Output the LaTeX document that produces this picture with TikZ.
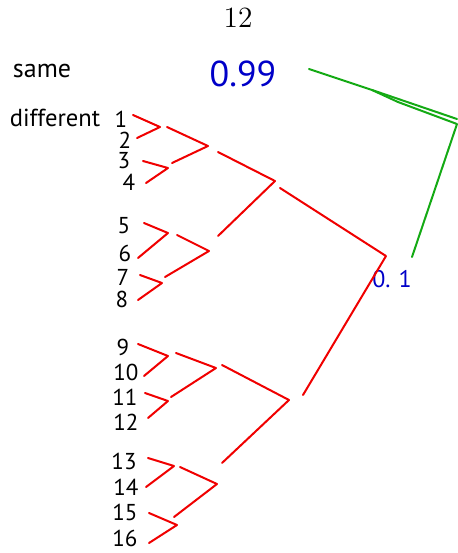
\documentclass[tikz,border=0pt]{standalone}
\usepackage{fontspec}
\newfontfamily\hand{PT Sans}
\definecolor{penred}{RGB}{240,0,0}
\definecolor{pengreen}{RGB}{20,170,20}
\definecolor{penblue}{RGB}{0,0,200}
\begin{document}
\begin{tikzpicture}[x=0.5pt, y=-0.5pt,
    tree/.style={penred, line width=1pt, line cap=round, line join=round},
    link/.style={pengreen, line width=1pt, line cap=round, line join=round},
    lbl/.style={font=\hand\fontsize{#1}{14}\selectfont, inner sep=0pt},
    prob/.style={penblue, font=\hand\fontsize{#1}{20}\selectfont, inner sep=0pt}]
    \useasboundingbox (0,0) rectangle (457,553);
    % Page number
    \node (page) at (238,18) {\fontsize{14.7}{17}\selectfont 12};
    % Row labels
    \node[lbl=13] (same) at (42,71) {same};
    \node[lbl=12.3] (diff) at (55,118) {different};
    % Leaves
    \foreach \n/\x/\y in {1/121/119, 2/125/140, 3/124/161, 4/129/182,
                          5/124/226, 6/125/253, 7/123/277, 8/122/299,
                          9/123/347, 10/126/372, 11/125/397, 12/126/422,
                          13/124/461, 14/126/487, 15/125/512, 16/125/538}
        \node[lbl=11.5] (n\n) at (\x,\y) {\n};
    % Probabilities
    \node[prob=18] (hi) at (243,74) {0.99};
    \node[prob=12] (lo) at (392,279) {0.\,\,1};
    % Merge points
    \coordinate (m12) at (160,127);
    \coordinate (m34) at (168,168);
    \coordinate (m56) at (168,233);
    \coordinate (m78) at (162,283);
    \coordinate (m910) at (168,356);
    \coordinate (m1112) at (168,401);
    \coordinate (m1314) at (174,466);
    \coordinate (m1516) at (177,525);
    \coordinate (q1) at (208,146);
    \coordinate (q2) at (209,251);
    \coordinate (q3) at (216,368);
    \coordinate (q4) at (217,484);
    \coordinate (h1) at (275,181);
    \coordinate (h2) at (289,400);
    \coordinate (root) at (386,256);
    % First level
    \draw[tree] (133,115) -- (m12) -- (137,138);
    \draw[tree] (143,161) -- (m34) -- (146,183);
    \draw[tree] (144,223) -- (m56) -- (138,258);
    \draw[tree] (140,275) -- (m78) -- (138,300);
    \draw[tree] (138,344) -- (m910) -- (144,376);
    \draw[tree] (145,393) -- (m1112) -- (148,418);
    \draw[tree] (148,458) -- (m1314) -- (146,487);
    \draw[tree] (149,513) -- (m1516) -- (149,543);
    % Second level
    \draw[tree] (167,127) -- (q1) -- (172,163);
    \draw[tree] (177,235) -- (q2) -- (165,277);
    \draw[tree] (176,353) -- (q3) -- (171,397);
    \draw[tree] (180,467) -- (q4) -- (174,517);
    % Third level
    \draw[tree] (218,152) -- (h1) -- (218,236);
    \draw[tree] (222,365) -- (h2) -- (222,463);
    % Root
    \draw[tree] (280,188) -- (root) -- (303,395);
    % Green elbow between the two values
    \coordinate (g) at (457,124);
    \draw[link] (309,69) -- (375,91) -- (457,119);
    \draw[link] (372,90) -- (398,102) -- (g) -- (412,257);
\end{tikzpicture}
\end{document}
